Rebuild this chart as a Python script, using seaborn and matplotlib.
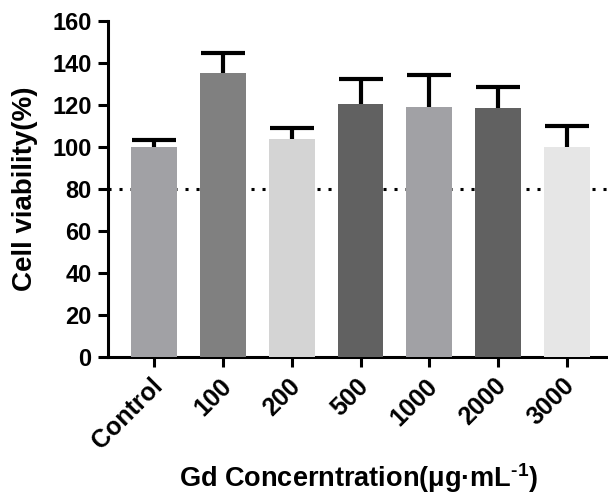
import numpy as np
import matplotlib
matplotlib.use("Agg")
import matplotlib.pyplot as plt
import matplotlib.transforms as mtransforms
import seaborn as sns

groups = ["Control", "100", "200", "500", "1000", "2000", "3000"]
viability = [100, 135, 104, 120.5, 119, 118.5, 100]
err = [3.5, 9.5, 5, 12, 15, 10, 10]
colors = ["#A1A1A5", "#808080", "#D4D4D4", "#616161", "#A1A1A5", "#616161", "#E6E6E6"]
ref_line = 80

sns.set_theme(style="ticks")
plt.rcParams["font.family"] = ["Liberation Sans", "DejaVu Sans"]
plt.rcParams["font.weight"] = "bold"
plt.rcParams["text.color"] = "black"
plt.rcParams["axes.labelcolor"] = "black"
plt.rcParams["xtick.color"] = "black"
plt.rcParams["ytick.color"] = "black"
plt.rcParams["mathtext.fontset"] = "custom"
plt.rcParams["mathtext.rm"] = "Liberation Sans:bold"
plt.rcParams["mathtext.it"] = "Liberation Sans:bold"
plt.rcParams["mathtext.bf"] = "Liberation Sans:bold"

fig = plt.figure(figsize=(6.08, 4.96), dpi=100)
ax = fig.add_axes([0.178, 0.28, 0.822, 0.678])

# dotted reference line sits behind the bars
ax.axhline(ref_line, color="black", lw=2.2, ls=(0, (1, 2.6)), zorder=1)

x = np.arange(len(groups))
# error bars drawn under the bars so only the upper half shows
ax.errorbar(x, viability, yerr=err, fmt="none", ecolor="black",
            elinewidth=3, capsize=16, capthick=3, zorder=2)

sns.barplot(x=groups, y=viability, hue=groups, palette=colors, legend=False,
            width=0.665, linewidth=0, saturation=1, ax=ax, zorder=3)

ax.set_xlim(-0.67, 6.6)
ax.set_ylim(0, 160)
ax.set_yticks(range(0, 161, 20))

for s in ["top", "right"]:
    ax.spines[s].set_visible(False)
for s in ["left", "bottom"]:
    ax.spines[s].set_linewidth(2.2)
    ax.spines[s].set_color("black")

ax.tick_params(axis="both", width=2.2, length=7, color="black", labelcolor="black")
ax.tick_params(axis="y", labelsize=17, pad=5)
ax.tick_params(axis="x", labelsize=18, pad=5)
shift = mtransforms.ScaledTranslation(-4 / 100, 0, fig.dpi_scale_trans)
for lab in ax.get_xticklabels():
    lab.set_rotation(45)
    lab.set_ha("right")
    lab.set_va("top")
    lab.set_rotation_mode("anchor")
    lab.set_fontweight("bold")
    lab.set_transform(lab.get_transform() + shift)
plt.setp(ax.get_yticklabels(), fontweight="bold")

ax.set_ylabel("Cell viability(%)", fontsize=20, fontweight="bold", va="center")
ax.yaxis.set_label_coords(-0.166, 0.5)
ax.set_xlabel(r"Gd Concerntration(μg·mL$^{\text{-1}}$)", fontsize=19.5,
              fontweight="bold", va="top")
ax.xaxis.set_label_coords(0.5, -0.31)

fig.savefig("out.png", dpi=100)
